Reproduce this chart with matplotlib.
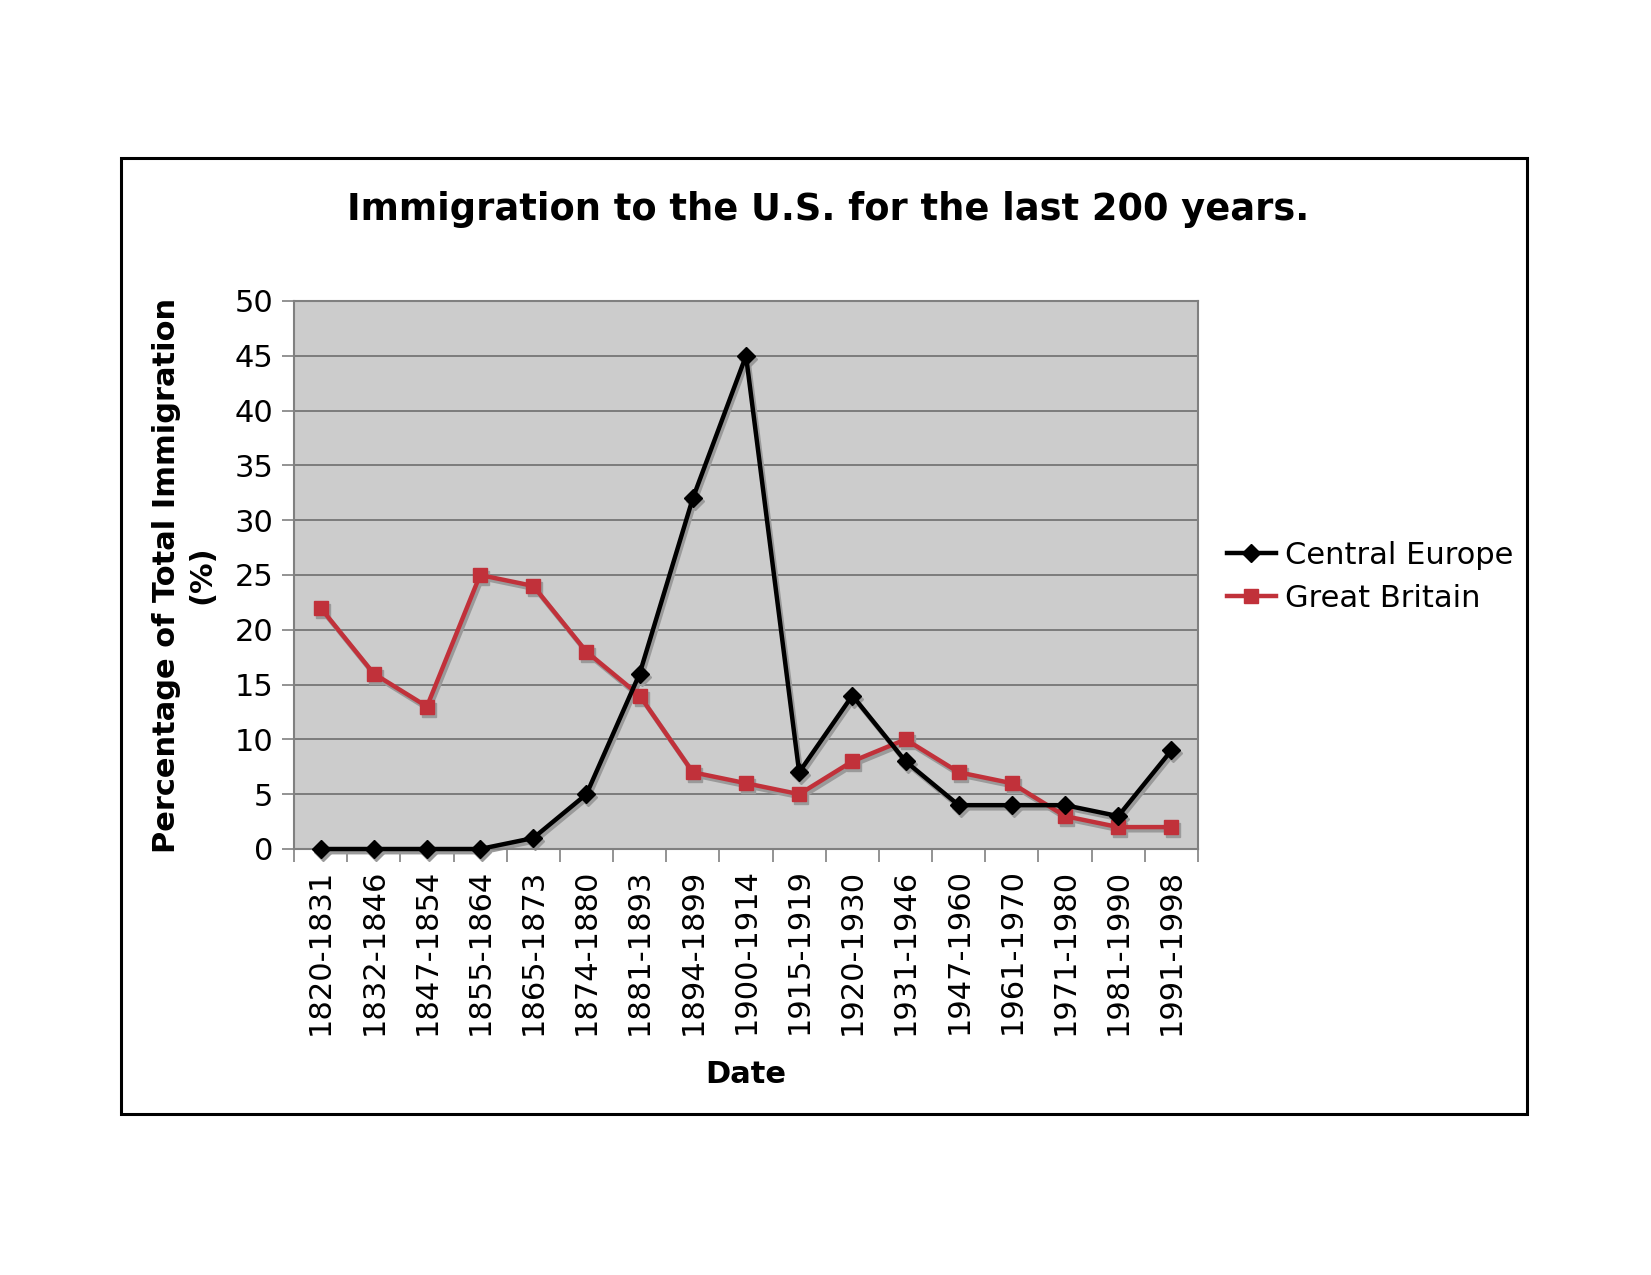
import numpy as np
import matplotlib.pyplot as plt
from matplotlib.patches import Rectangle
from matplotlib.transforms import offset_copy

periods = ['1820-1831', '1832-1846', '1847-1854', '1855-1864', '1865-1873',
           '1874-1880', '1881-1893', '1894-1899', '1900-1914', '1915-1919',
           '1920-1930', '1931-1946', '1947-1960', '1961-1970', '1971-1980',
           '1981-1990', '1991-1998']
central_europe = [0, 0, 0, 0, 1, 5, 16, 32, 45, 7, 14, 8, 4, 4, 4, 3, 9]
great_britain = [22, 16, 13, 25, 24, 18, 14, 7, 6, 5, 8, 10, 7, 6, 3, 2, 2]

W, H = 1651, 1275
fig = plt.figure(figsize=(W / 100, H / 100), dpi=100)
fig.patch.set_facecolor('white')

# outer chart frame
fig.patches.append(Rectangle((121 / W, 1 - 1114 / H), (1527 - 121) / W, (1114 - 158) / H,
                             transform=fig.transFigure, fill=False,
                             edgecolor='black', linewidth=2.2))

ax = fig.add_axes([294 / W, 1 - 849 / H, (1198 - 294) / W, (849 - 301) / H])
ax.set_facecolor('#CCCCCC')

x = np.arange(len(periods))
red = '#C1313A'

# drop shadows behind the lines
for vals, mk, ms in [(central_europe, 'D', 9.5), (great_britain, 's', 9.5)]:
    shadow = offset_copy(ax.transData, fig=fig, x=2, y=-3, units='dots')
    ax.plot(x, vals, color='#9A9A9A', linewidth=3.5, marker=mk, markersize=ms,
            transform=shadow, zorder=2, clip_on=False)

ax.plot(x, central_europe, color='black', linewidth=3.2, marker='D', markersize=9.5,
        label='Central Europe', zorder=4, clip_on=False)
ax.plot(x, great_britain, color=red, linewidth=3.2, marker='s', markersize=9.5,
        label='Great Britain', zorder=3, clip_on=False)

ax.set_xlim(-0.5, len(periods) - 0.5)
ax.set_ylim(0, 50)
ax.set_yticks(np.arange(0, 51, 5))
ax.yaxis.grid(True, color='#666666', linewidth=1.1)
ax.set_axisbelow(True)

ax.set_xticks(np.arange(-0.5, len(periods)), labels=[])
ax.set_xticks(x, minor=True)
ax.set_xticklabels(periods, minor=True, rotation=90, fontsize=22)
ax.tick_params(axis='x', which='major', length=9, color='#808080', width=1.2)
ax.tick_params(axis='x', which='minor', length=0, pad=14)
ax.tick_params(axis='y', length=9, color='#808080', width=1.2, labelsize=22, pad=6)

for s in ax.spines.values():
    s.set_color('#808080')
    s.set_linewidth(1.5)

ax.set_xlabel('Date', fontsize=22, fontweight='bold', labelpad=18)
ax.set_ylabel('Percentage of Total Immigration\n(%)', fontsize=22,
              fontweight='bold', labelpad=13, linespacing=1.25)

fig.text(828 / W, 1 - 210 / H, 'Immigration to the U.S. for the last 200 years.',
         ha='center', va='center', fontsize=26.5, fontweight='bold')

fig.legend(loc='center left', bbox_to_anchor=(1227 / W, 1 - 577 / H), frameon=False,
           fontsize=22, handlelength=1.6, handletextpad=0.3, labelspacing=0.45,
           borderpad=0, borderaxespad=0)

fig.savefig('out.png', dpi=100)
